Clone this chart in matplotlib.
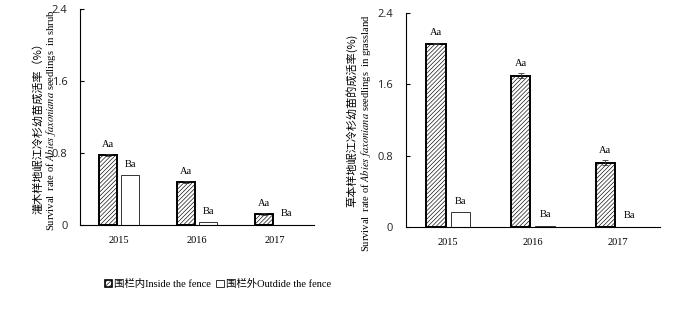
import numpy as np
import matplotlib
matplotlib.use("Agg")
import matplotlib.pyplot as plt
from matplotlib.patches import Patch

plt.rcParams["hatch.color"] = "#6a6a6a"
plt.rcParams["hatch.linewidth"] = 0.45
plt.rcParams["mathtext.fontset"] = "stix"

years = ["2015", "2016", "2017"]

# shrub plot
shrub_in = [0.78, 0.48, 0.12]
shrub_in_err = [0.01, 0.01, 0.01]
shrub_out = [0.55, 0.03, 0.0]
shrub_in_lab = ["Aa", "Aa", "Aa"]
shrub_out_lab = ["Ba", "Ba", "Ba"]

# grassland plot
grass_in = [2.06, 1.70, 0.72]
grass_in_err = [0.01, 0.03, 0.025]
grass_out = [0.16, 0.01, 0.0]
grass_in_lab = ["Aa", "Aa", "Aa"]
grass_out_lab = ["Ba", "Ba", "Ba"]

yticks = [0, 0.8, 1.6, 2.4]
ytick_labels = ["0", "0.8", "1.6", "2.4"]

SERIF = ["Liberation Serif", "Noto Sans CJK SC"]
CJK = ["Noto Sans CJK SC", "DejaVu Sans"]
HATCH = "////////"

fig = plt.figure(figsize=(7.0, 3.26), dpi=100)
ax_l = fig.add_axes([0.1143, 0.3098, 0.3343, 0.6635])
ax_r = fig.add_axes([0.5796, 0.3046, 0.3633, 0.6546])


def draw_panel(ax, inside, inside_err, outside, lab_in, lab_out, bw):
    x = np.arange(len(years))
    off = 0.144
    ax.bar(x - off, inside, bw, color="white", edgecolor="black",
           linewidth=1.4, hatch=HATCH, zorder=2)
    ax.errorbar(x - off, inside, yerr=inside_err, fmt="none",
                ecolor="#333333", elinewidth=0.6, capsize=2.5, capthick=0.6,
                zorder=3)
    ax.bar(x + off, outside, bw, color="white", edgecolor="#333333",
           linewidth=0.7, zorder=2)
    for xi, v, e, t in zip(x - off, inside, inside_err, lab_in):
        ax.annotate(t, (xi, v + e), xytext=(0, 7), textcoords="offset points",
                    ha="center", va="center", fontsize=7.5, family=SERIF)
    for xi, v, t in zip(x + off, outside, lab_out):
        ax.annotate(t, (xi, v), xytext=(0, 8), textcoords="offset points",
                    ha="center", va="center", fontsize=7.5, family=SERIF)
    ax.set_xlim(-0.5, 2.5)
    ax.set_ylim(0, 2.4)
    ax.set_yticks(yticks)
    ax.set_yticklabels(ytick_labels, family="Open Sans", fontsize=8,
                       color="#222222")
    ax.set_xticks(x)
    ax.set_xticklabels(years, family=SERIF, fontsize=7.5)
    ax.tick_params(axis="y", direction="in", length=3, width=0.8, pad=9)
    ax.tick_params(axis="x", length=0, pad=8)
    for s in ("top", "right"):
        ax.spines[s].set_visible(False)
    for s in ("left", "bottom"):
        ax.spines[s].set_linewidth(0.8)


draw_panel(ax_l, shrub_in, shrub_in_err, shrub_out,
           shrub_in_lab, shrub_out_lab, 0.237)
draw_panel(ax_r, grass_in, grass_in_err, grass_out,
           grass_in_lab, grass_out_lab, 0.23)

# two-line y labels (Chinese + English)
fig.text(38 / 700, 1 - 125 / 326, "灌木样地岷江冷杉幼苗成活率（%）", rotation=90,
         ha="center", va="center", fontsize=8, family=CJK)
fig.text(51 / 700, 1 - 120 / 326,
         r"Survival  rate of $\mathit{Abies\ faxoniana}$ seedlings  in shrub",
         rotation=90, ha="center", va="center", fontsize=7.6, family=SERIF)
fig.text(352 / 700, 1 - 120 / 326, "草本样地岷江冷杉幼苗的成活率(%)", rotation=90,
         ha="center", va="center", fontsize=8, family=CJK)
fig.text(366 / 700, 1 - 133 / 326,
         r"Survival  rate of $\mathit{Abies\ faxoniana}$ seedlings  in grassland",
         rotation=90, ha="center", va="center", fontsize=7.6, family=SERIF)

handles = [
    Patch(facecolor="white", edgecolor="black", hatch=HATCH, linewidth=1.2),
    Patch(facecolor="white", edgecolor="#333333", linewidth=0.7),
]
fig.legend(handles, ["围栏内Inside the fence", "围栏外Outdide the fence"],
           loc="center", bbox_to_anchor=(218 / 700, 1 - 284 / 326), ncol=2,
           frameon=False, prop={"family": SERIF, "size": 7.5},
           handlelength=0.7, handleheight=0.7, handletextpad=0.2,
           columnspacing=0.5, borderpad=0)

fig.savefig("out.png", dpi=100)
